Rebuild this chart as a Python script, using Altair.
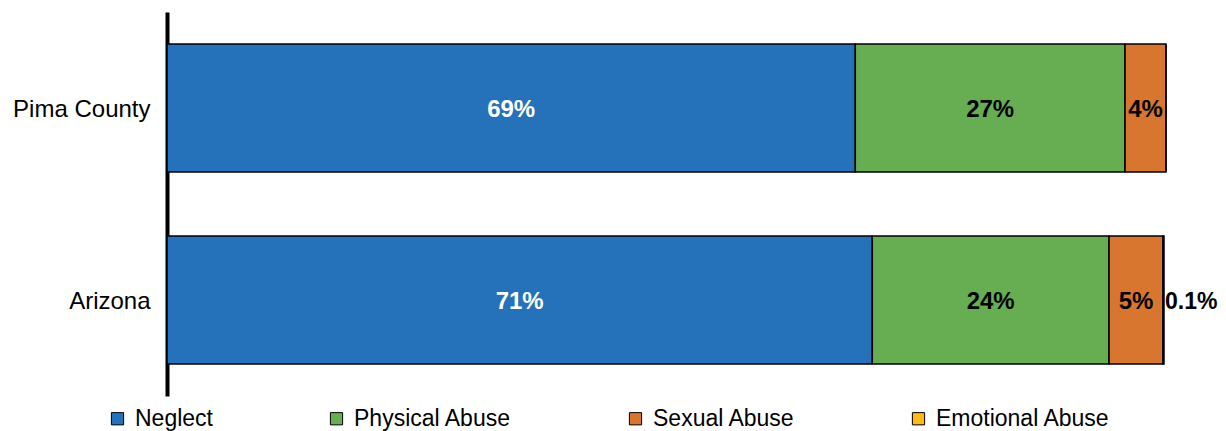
import altair as alt
import pandas as pd

regions = ["Pima County", "Arizona"]
categories = ["Neglect", "Physical Abuse", "Sexual Abuse", "Emotional Abuse"]
colors = ["#2571BA", "#67AE53", "#D8762F", "#FFB91D"]
pima_values = [68.9, 27.0, 4.1, 0.0]
arizona_values = [70.6, 23.7, 5.4, 0.1]
label_colors = ["white", "black", "black", "black"]

rows = []
for region, vals in zip(regions, [pima_values, arizona_values]):
    for i, (cat, v) in enumerate(zip(categories, vals)):
        if v >= 1:
            lab = f"{int(v + 0.5)}%"
        else:
            lab = f"{v}%"
        rows.append({"region": region, "category": cat, "value": v, "order": i,
                     "label": lab, "lcolor": label_colors[i]})
df = pd.DataFrame(rows)

FONT = "Liberation Sans"

base = alt.Chart(df).transform_stack(
    stack="value", groupby=["region"], sort=[alt.SortField("order")], as_=["x0", "x1"]
).transform_calculate(mid="(datum.x0 + datum.x1) / 2")

y_enc = alt.Y("region:N", sort=regions, title=None,
              scale=alt.Scale(paddingInner=1/3, paddingOuter=1/6),
              axis=alt.Axis(domainColor="black", domainWidth=4, ticks=False, tickSize=0,
                            labelFontSize=24, labelFont=FONT, labelColor="black",
                            labelPadding=17, labelOffset=2, grid=False))
x_scale = alt.Scale(domain=[0, 100], nice=False, zero=True)

bars = base.mark_bar(stroke="black", strokeWidth=1.5).encode(
    x=alt.X("x0:Q", scale=x_scale, axis=None),
    x2="x1:Q",
    y=y_enc,
    color=alt.Color("category:N", sort=categories,
                    scale=alt.Scale(domain=categories, range=colors),
                    legend=alt.Legend(title=None, orient="none", direction="horizontal",
                                      columns=4, legendX=-61, legendY=395,
                                      symbolType="square", symbolSize=150,
                                      symbolStrokeColor="black", symbolStrokeWidth=1,
                                      symbolOpacity=1, labelFontSize=23, labelFont=FONT,
                                      labelColor="black", labelOffset=6,
                                      columnPadding=112, labelLimit=300)),
)

inside = base.transform_filter("datum.value >= 1").mark_text(
    font=FONT, fontSize=24, fontWeight="bold", align="center", baseline="middle", dy=2
).encode(
    x=alt.X("mid:Q", scale=x_scale),
    y=alt.Y("region:N", sort=regions),
    text="label:N",
    color=alt.Color("lcolor:N", scale=None),
)

outside = base.transform_filter("datum.value > 0 && datum.value < 1").mark_text(
    font=FONT, fontSize=23, fontWeight="bold", align="left", baseline="middle", dx=1, dy=2,
    color="black"
).encode(
    x=alt.X("x1:Q", scale=x_scale),
    y=alt.Y("region:N", sort=regions),
    text="label:N",
)

chart = alt.layer(bars, inside, outside).properties(
    width=999, height=384,
    background="white",
    autosize=alt.AutoSizeParams(type="none"),
    padding={"left": 159, "top": 4, "right": 52, "bottom": 35},
).configure_view(strokeWidth=0, stroke="transparent")

chart.save("out.html", embed_options={"renderer": "svg", "actions": False})
